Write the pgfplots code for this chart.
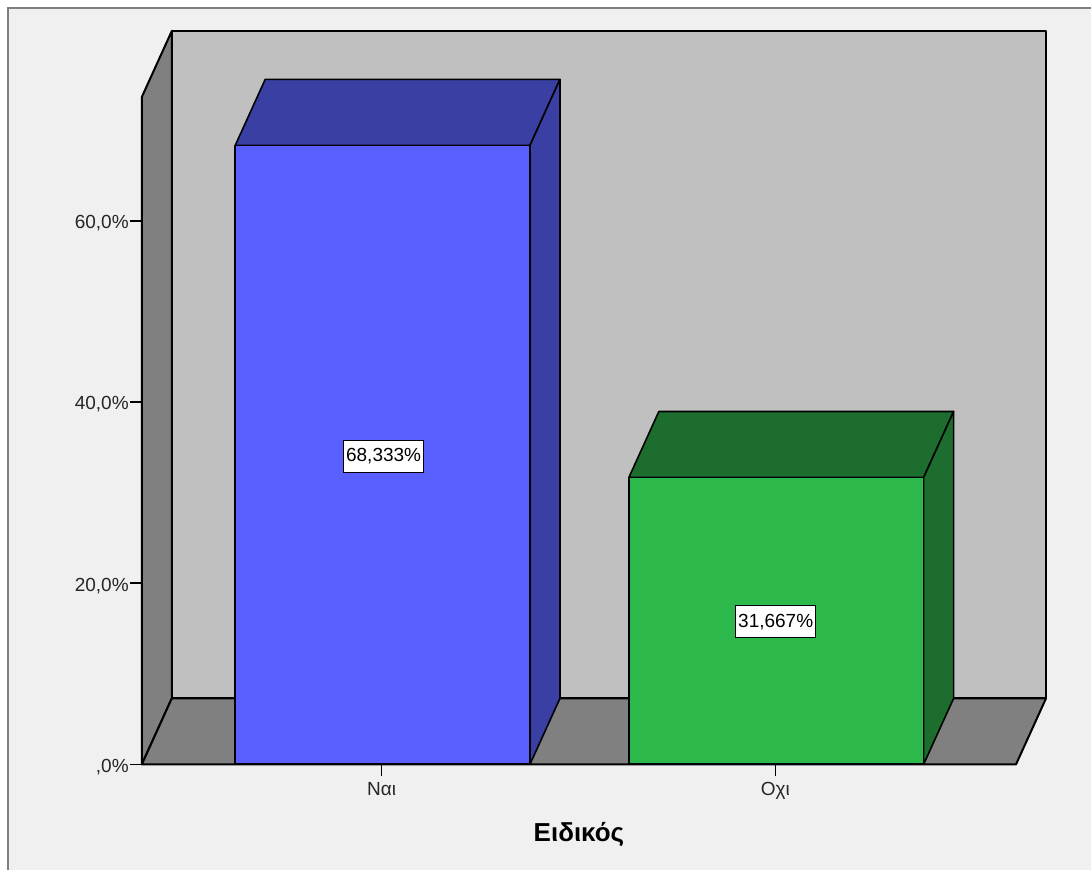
\documentclass[border=0pt]{standalone}
\usepackage{fontspec}
\setmainfont{Liberation Sans}
\usepackage{pgfplots}
\pgfplotsset{compat=1.18}
\definecolor{panelbg}{HTML}{F0F0F0}
\definecolor{frameline}{HTML}{7F7F7F}
\definecolor{wallback}{HTML}{C0C0C0}
\definecolor{wallside}{HTML}{808080}
\definecolor{barblue}{HTML}{5A5FFF}
\definecolor{barbluedark}{HTML}{3A3FA3}
\definecolor{bargreen}{HTML}{2DB84B}
\definecolor{bargreendark}{HTML}{1D6E2E}
\begin{document}
\begin{tikzpicture}[x=1pt,y=1pt]
% page and panel
\fill[white] (0,0) rectangle (1092,871);
\fill[panelbg] (8,0) rectangle (1092,863);
\draw[frameline,line width=2pt] (8,0) -- (8,863) -- (1092,863);
\begin{axis}[
  at={(142pt,106pt)}, anchor=south west,
  scale only axis, width=875pt, height=668pt,
  xmin=-0.6091, xmax=1.6117, ymin=0, ymax=73.68,
  clip=false,
  axis line style={draw=none},
  tick style={black,line width=1.4pt},
  major tick length=12pt,
  tick align=outside,
  xtick pos=bottom, ytick pos=left,
  xtick={0,1}, xticklabels={Ναι,Οχι},
  ytick={0,20,40,60}, yticklabels={{,0\%},{20,0\%},{40,0\%},{60,0\%}},
  every tick label/.append style={font=\fontsize{19}{21}\selectfont,text=black!85},
  xticklabel style={inner sep=0pt,yshift=-6pt},
  yticklabel style={inner sep=0pt,xshift=-1pt,yshift=-2.5pt},
  xlabel={\fontsize{26}{28}\selectfont\bfseries Ειδικός},
  xlabel style={inner sep=0pt,at={(axis description cs:0.5,0)},anchor=center,yshift=-70pt},
  every axis plot/.append style={line join=round},
]
% back wall, left wall and floor
\addplot[fill=wallback,draw=black,line width=2pt] coordinates
  {(-0.5330,7.28)(1.6878,7.28)(1.6878,80.96)(-0.5330,80.96)} --cycle;
\addplot[fill=wallside,draw=black,line width=2pt] coordinates
  {(-0.6091,0)(-0.6091,73.68)(-0.5330,80.96)(-0.5330,7.28)} --cycle;
\addplot[fill=wallside,draw=black,line width=2pt] coordinates
  {(-0.6091,0)(1.6117,0)(1.6878,7.28)(-0.5330,7.28)} --cycle;
% first bar
\addplot[fill=barbluedark,draw=black,line width=1.6pt] coordinates
  {(-0.3719,68.333)(0.3769,68.333)(0.4530,75.613)(-0.2958,75.613)} --cycle;
\addplot[fill=barbluedark,draw=black,line width=1.6pt] coordinates
  {(0.3769,0)(0.3769,68.333)(0.4530,75.613)(0.4530,7.28)} --cycle;
\addplot[ybar,bar shift=0pt,bar width=295pt,fill=barblue,draw=black,line width=1.6pt]
  coordinates {(0.0025,68.333)};
% second bar
\addplot[fill=bargreendark,draw=black,line width=1.6pt] coordinates
  {(0.6281,31.667)(1.3769,31.667)(1.4530,38.947)(0.7042,38.947)} --cycle;
\addplot[fill=bargreendark,draw=black,line width=1.6pt] coordinates
  {(1.3769,0)(1.3769,31.667)(1.4530,38.947)(1.4530,7.28)} --cycle;
\addplot[ybar,bar shift=0pt,bar width=295pt,fill=bargreen,draw=black,line width=1.6pt]
  coordinates {(1.0025,31.667)};
% value labels in the middle of each bar
\node[fill=white,draw=black,line width=1.2pt,inner xsep=2.5pt,inner ysep=0pt,minimum height=32pt,
  font=\fontsize{19}{21}\selectfont] at (axis cs:0.005,34.0) {68,333\%};
\node[fill=white,draw=black,line width=1.2pt,inner xsep=2.5pt,inner ysep=0pt,minimum height=32pt,
  font=\fontsize{19}{21}\selectfont] at (axis cs:1.001,15.75) {31,667\%};
\end{axis}
\end{tikzpicture}
\end{document}
